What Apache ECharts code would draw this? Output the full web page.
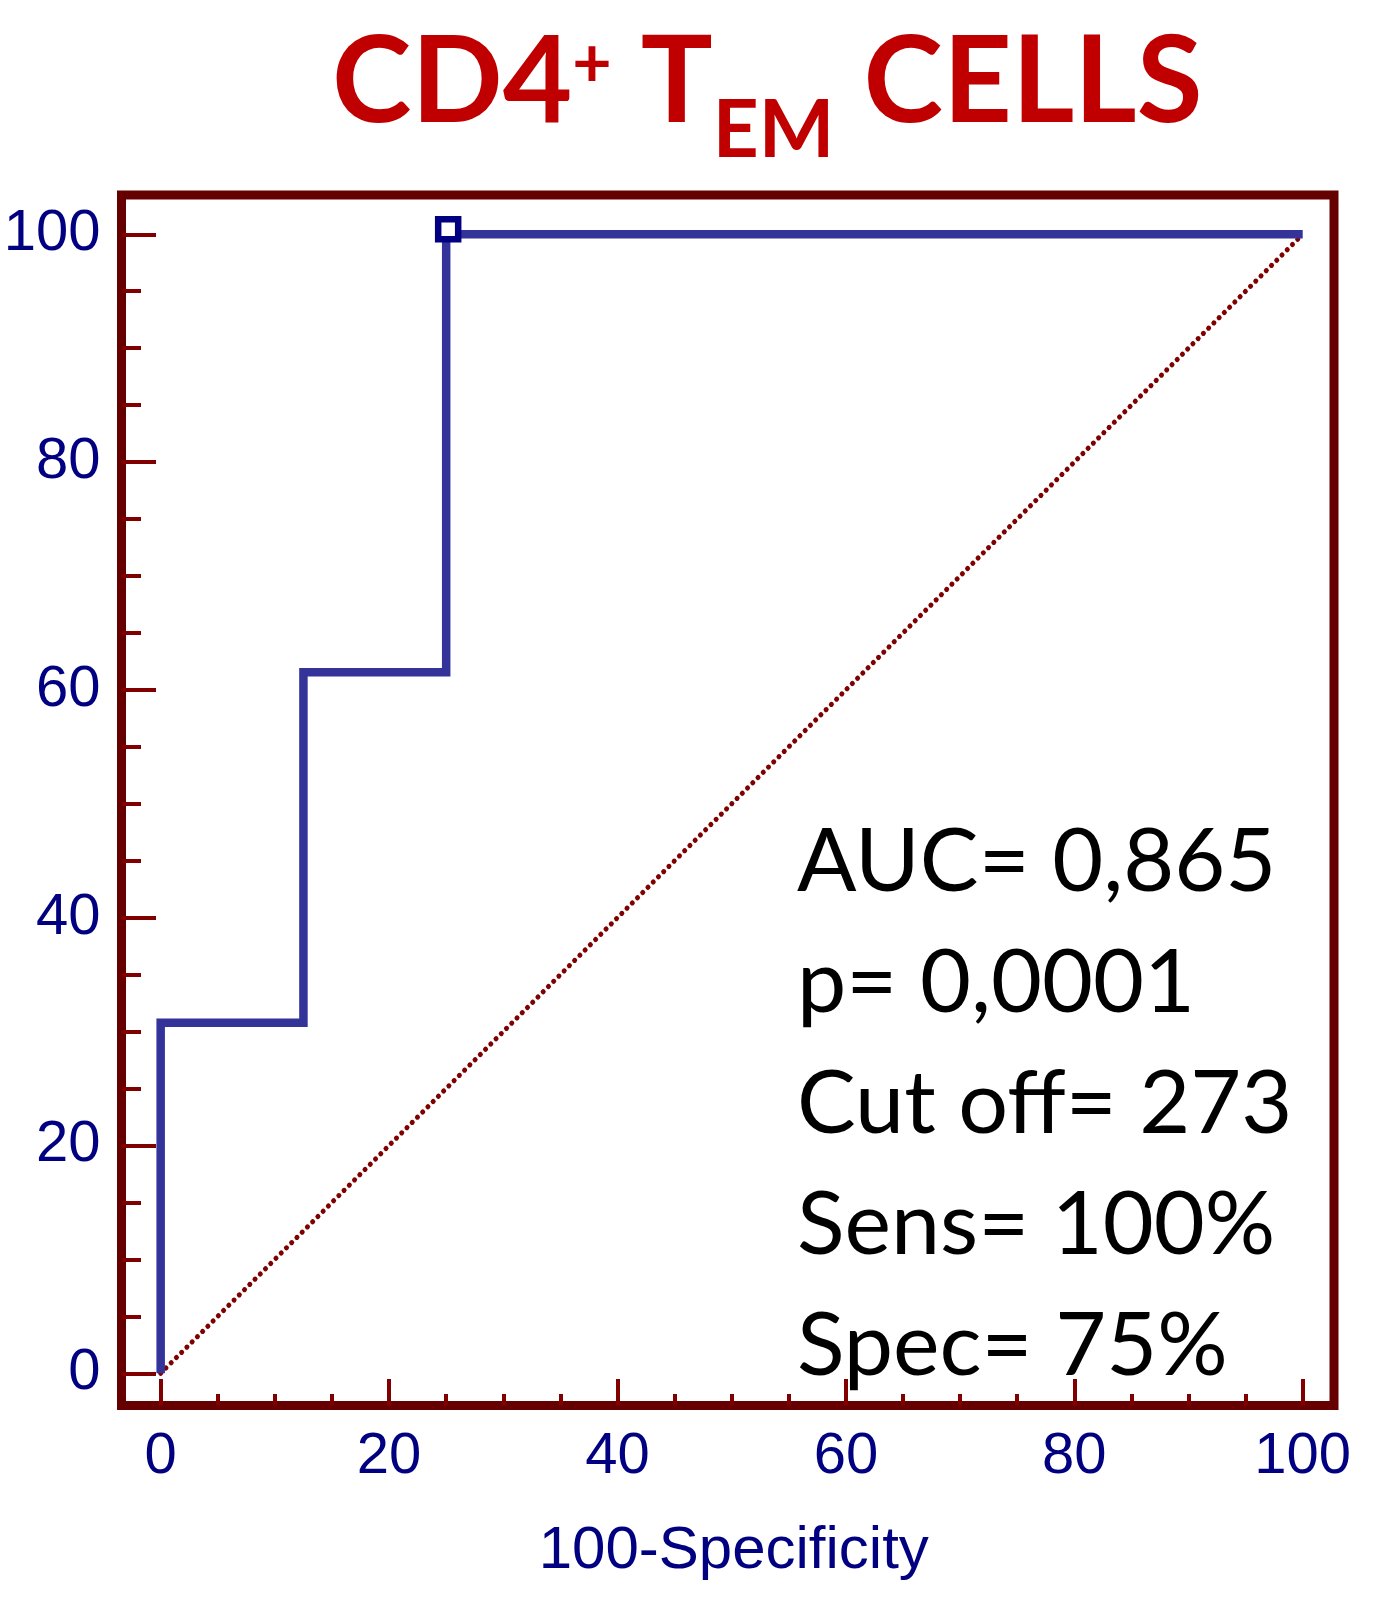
<!DOCTYPE html>
<html>
<head>
<meta charset="utf-8">
<style>
  html, body { margin: 0; padding: 0; background: #ffffff; }
  #chart { width: 1387px; height: 1612px; }
</style>
<script src="https://cdn.jsdelivr.net/npm/echarts@6/dist/echarts.min.js"></script>
</head>
<body>
<div id="chart"></div>
<script>
// ---- data ----
const rocX = [0, 0, 12.5, 12.5, 25, 25, 100];
const rocY = [0, 30.77, 30.77, 61.54, 61.54, 100, 100];
const diagX = [0, 100];
const diagY = [0, 100];
const cutPoint = [25, 100];
const majorTicks = [0, 20, 40, 60, 80, 100];
const minorTicks = [5, 10, 15, 25, 30, 35, 45, 50, 55, 65, 70, 75, 85, 90, 95];
const xAxisName = '100-Specificity';
const statsLines = ['AUC= 0,865', 'p= 0,0001', 'Cut off= 273', 'Sens= 100%', 'Spec= 75%'];

const rocData = rocX.map((x, i) => [x, rocY[i]]);
const diagData = diagX.map((x, i) => [x, diagY[i]]);

const NAVY = '#000080';
const FRAME = '#660000';
const TICK = '#800000';
const LABEL_FONT = 'Arial, "Liberation Sans", sans-serif';

const X_MIN = -3.43, X_MAX = 102.74;
const Y_MIN = -2.83, Y_MAX = 103.45;

const chart = echarts.init(document.getElementById('chart'), null, { renderer: 'canvas' });

function majorX() {
  return {
    type: 'value', position: 'bottom', min: X_MIN, max: X_MAX,
    name: xAxisName, nameLocation: 'middle', nameGap: 116,
    nameTextStyle: { color: NAVY, fontFamily: LABEL_FONT, fontSize: 60, padding: [0, 0, 0, 12] },
    axisLine: { show: false, onZero: false },
    splitLine: { show: false },
    axisTick: { show: true, inside: true, length: 26.5, customValues: majorTicks,
      lineStyle: { color: TICK, width: 4 } },
    axisLabel: { show: true, customValues: majorTicks, margin: 22, color: NAVY,
      fontFamily: LABEL_FONT, fontSize: 58 }
  };
}
function minorX() {
  return {
    type: 'value', position: 'bottom', min: X_MIN, max: X_MAX,
    axisLine: { show: false, onZero: false }, splitLine: { show: false },
    axisTick: { show: true, inside: true, length: 11.5, customValues: minorTicks,
      lineStyle: { color: TICK, width: 4 } },
    axisLabel: { show: false }
  };
}
function majorY() {
  return {
    type: 'value', position: 'left', min: Y_MIN, max: Y_MAX,
    axisLine: { show: false, onZero: false }, splitLine: { show: false },
    axisTick: { show: true, inside: true, length: 34.5, customValues: majorTicks,
      lineStyle: { color: TICK, width: 4 } },
    axisLabel: { show: true, customValues: majorTicks, margin: 21, color: NAVY,
      fontFamily: LABEL_FONT, fontSize: 58 }
  };
}
function minorY() {
  return {
    type: 'value', position: 'left', min: Y_MIN, max: Y_MAX,
    axisLine: { show: false, onZero: false }, splitLine: { show: false },
    axisTick: { show: true, inside: true, length: 19.5, customValues: minorTicks,
      lineStyle: { color: TICK, width: 4 } },
    axisLabel: { show: false }
  };
}

const option = {
  backgroundColor: '#ffffff',
  animation: false,
  title: [
    {
      text: '{a|CD4}{sup|+}{t| T}{sub|EM}{a| CELLS}',
      left: 332, top: -5, padding: 0,
      textStyle: {
        rich: {
          a: { fontFamily: 'Lato', fontWeight: 'bold', fontSize: 120, color: '#C00000' },
          t: { fontFamily: 'Lato', fontWeight: 'bold', fontSize: 120, color: '#C00000' },
          sup: { fontFamily: 'Lato', fontWeight: 'bold', fontSize: 68, color: '#C00000', padding: [0, 0, 36, 0] },
          sub: { fontFamily: 'Lato', fontWeight: 'bold', fontSize: 80, color: '#C00000', padding: [96, 0, 0, 0] }
        }
      }
    },
    {
      text: statsLines.join('\n'),
      left: 797, top: 802, padding: 0,
      textStyle: { fontFamily: 'Lato', fontWeight: 'normal', fontSize: 88, lineHeight: 121, color: '#000000' }
    }
  ],
  grid: {
    left: 121.5, top: 195, width: 1212.5, height: 1210.5,
    show: true, borderColor: FRAME, borderWidth: 9, backgroundColor: 'transparent',
    outerBoundsMode: 'none'
  },
  xAxis: [majorX(), minorX()],
  yAxis: [majorY(), minorY()],
  series: [
    {
      type: 'line', data: diagData, xAxisIndex: 0, yAxisIndex: 0,
      showSymbol: false, symbol: 'none', z: 2,
      lineStyle: { color: '#800000', width: 5, type: [0.1, 7.3], cap: 'round' }
    },
    {
      type: 'line', data: rocData, xAxisIndex: 0, yAxisIndex: 0,
      showSymbol: false, symbol: 'none', z: 3,
      lineStyle: { color: '#333399', width: 8.5, join: 'miter', cap: 'butt' }
    },
    {
      type: 'scatter', data: [cutPoint], xAxisIndex: 0, yAxisIndex: 0, z: 4,
      symbol: 'rect', symbolSize: 20, symbolOffset: [2, -5],
      itemStyle: { color: '#ffffff', borderColor: NAVY, borderWidth: 6.5, opacity: 1 }
    }
  ]
};
chart.setOption(option);
</script>
</body>
</html>
